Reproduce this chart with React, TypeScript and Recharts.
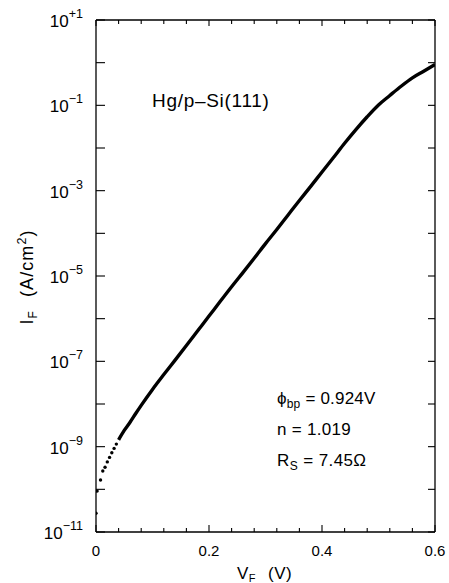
import React from "react";
import {
  ComposedChart,
  Line,
  Scatter,
  XAxis,
  YAxis,
  ReferenceLine,
  Customized,
} from "recharts";

// Forward voltage ticks (V)
const xTicks = [0, 0.04, 0.08, 0.12, 0.16, 0.2, 0.24, 0.28, 0.32, 0.36, 0.4, 0.44, 0.48, 0.52, 0.56, 0.6];
// Current density ticks (A/cm^2), one per decade
const yTicks = [1e-11, 1e-10, 1e-9, 1e-8, 1e-7, 1e-6, 1e-5, 1e-4, 1e-3, 1e-2, 1e-1, 1, 10];

// Sparse low-bias points (individual dots)
const sparseV = [0, 0.002, 0.008, 0.012, 0.016, 0.02, 0.024, 0.028, 0.032, 0.036];
const sparseI = [2.75e-11, 9.1e-11, 1.66e-10, 2.7e-10, 3.3e-10, 4.4e-10, 5.6e-10, 7.2e-10, 9.1e-10, 1.15e-9];

// Dense measured curve
const denseV = [0.04, 0.05, 0.06, 0.07, 0.08, 0.1, 0.12, 0.14, 0.16, 0.18, 0.2, 0.22, 0.24, 0.26, 0.28, 0.3, 0.32, 0.34, 0.36, 0.38, 0.4, 0.42, 0.44, 0.46, 0.48, 0.5, 0.52, 0.54, 0.56, 0.58, 0.6];
const denseI = [1.45e-9, 2.4e-9, 3.7e-9, 5.9e-9, 9.3e-9, 2.2e-8, 4.9e-8, 1.07e-7, 2.35e-7, 5.2e-7, 1.15e-6, 2.55e-6, 5.6e-6, 1.2e-5, 2.6e-5, 5.75e-5, 1.23e-4, 2.7e-4, 5.9e-4, 1.26e-3, 2.75e-3, 5.9e-3, 1.29e-2, 2.7e-2, 5.4e-2, 0.102, 0.17, 0.28, 0.44, 0.63, 0.91];

const sparseData = sparseV.map((v, k) => ({ v, i: sparseI[k] }));
const denseData = denseV.map((v, k) => ({ v, i: denseI[k] }));

const W = 449;
const H = 583;
const M = { top: 20, right: 14, bottom: 0, left: 0 };
const PLOT_TOP = 20;
const PLOT_RIGHT = W - M.right;
const FONT = "'Liberation Sans', Arial, Helvetica, sans-serif";

const XTick = (props: any) => {
  const { x, y, payload } = props;
  const v = payload.value;
  const major = Math.abs(v * 5 - Math.round(v * 5)) < 1e-6;
  const len = major ? 7 : 4;
  const label = v === 0 ? "0" : v.toFixed(1);
  return (
    <g>
      <line x1={x} y1={y} x2={x} y2={y - len} stroke="#000" strokeWidth={1.1} />
      <line x1={x} y1={PLOT_TOP} x2={x} y2={PLOT_TOP + (major ? 6 : 4)} stroke="#000" strokeWidth={1.1} />
      {major && (
        <text x={x} y={y + 24} textAnchor="middle" fontSize={15} fontFamily={FONT} fill="#000">
          {label}
        </text>
      )}
    </g>
  );
};

const YTick = (props: any) => {
  const { x, y, payload } = props;
  const e = Math.round(Math.log10(payload.value));
  const odd = Math.abs(e) % 2 === 1;
  const sup = e > 0 ? `+${e}` : `\u2212${-e}`;
  return (
    <g>
      <line x1={x} y1={y} x2={x + 9} y2={y} stroke="#000" strokeWidth={1.1} />
      <line x1={PLOT_RIGHT} y1={y} x2={PLOT_RIGHT - 7} y2={y} stroke="#000" strokeWidth={1.1} />
      {odd && (
        <text x={x - 13} y={y + 7} textAnchor="end" fontSize={17} fontFamily={FONT} fill="#000">
          <tspan>10</tspan>
          <tspan fontSize={12.5} dy={-9}>{sup}</tspan>
        </text>
      )}
    </g>
  );
};

const Annotations = () => (
  <g fontFamily={FONT} fill="#000">
    <text x={152} y={107} fontSize={19} letterSpacing={0.7}>
      Hg/p–Si(111)
    </text>
    <text x={277} y={404} fontSize={17} letterSpacing={0.2}>
      <tspan>ϕ</tspan>
      <tspan fontSize={12} dy={4}>bp</tspan>
      <tspan dy={-4}> = 0.924V</tspan>
    </text>
    <text x={277} y={435} fontSize={17} letterSpacing={0.3}>
      n = 1.019
    </text>
    <text x={277} y={466} fontSize={17} letterSpacing={0.4}>
      <tspan>R</tspan>
      <tspan fontSize={12} dy={4}>S</tspan>
      <tspan dy={-4}> = 7.45Ω</tspan>
    </text>
    <text x={237} y={579} fontSize={17} letterSpacing={0.5}>
      <tspan>V</tspan>
      <tspan fontSize={11} dy={3}>F</tspan>
      <tspan dy={-3} dx={12}>(V)</tspan>
    </text>
    <text transform="translate(33,277) rotate(-90)" textAnchor="middle" fontSize={18} letterSpacing={1.1}>
      <tspan>I</tspan>
      <tspan fontSize={12} dy={4}>F</tspan>
      <tspan dy={-4} dx={13}>(A/cm</tspan>
      <tspan fontSize={12.5} dy={-7}>2</tspan>
      <tspan dy={7}>)</tspan>
    </text>
  </g>
);

export default function App() {
  return (
    <div style={{ position: "absolute", left: 0, top: 0, background: "#fff" }}>
      <ComposedChart width={W} height={H} margin={M}>
        <XAxis
          dataKey="v"
          type="number"
          domain={[0, 0.6]}
          ticks={xTicks}
          interval={0}
          height={51}
          tickSize={0}
          tickMargin={0}
          tick={<XTick />}
          axisLine={{ stroke: "#000", strokeWidth: 1.3 }}
          allowDataOverflow
        />
        <YAxis
          dataKey="i"
          type="number"
          scale="log"
          domain={[1e-11, 10]}
          ticks={yTicks}
          interval={0}
          width={96}
          tickSize={0}
          tickMargin={0}
          tick={<YTick />}
          axisLine={{ stroke: "#000", strokeWidth: 1.3 }}
          allowDataOverflow
        />
        <ReferenceLine x={0.6} stroke="#000" strokeWidth={1.3} />
        <ReferenceLine y={10} stroke="#000" strokeWidth={1.3} />
        <Line
          data={denseData}
          dataKey="i"
          type="monotone"
          stroke="#000"
          strokeWidth={3.4}
          dot={false}
          isAnimationActive={false}
        />
        <Scatter
          data={sparseData}
          dataKey="i"
          fill="#000"
          isAnimationActive={false}
          shape={(p: any) => <circle cx={p.cx} cy={p.cy} r={1.7} fill="#000" />}
        />
        <Customized component={Annotations} />
      </ComposedChart>
    </div>
  );
}
